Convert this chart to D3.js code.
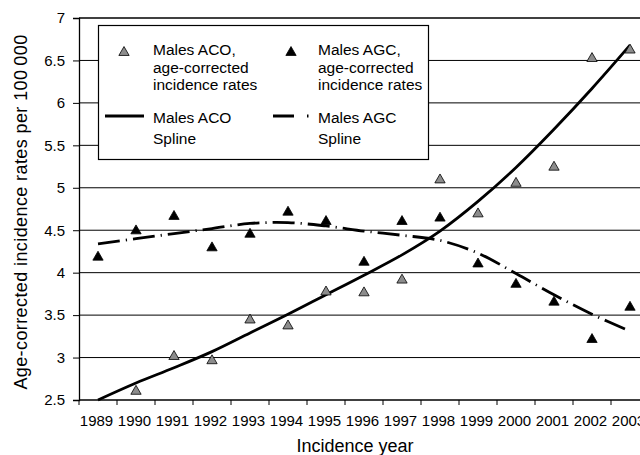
<!DOCTYPE html>
<html>
<head>
<meta charset="utf-8">
<script src="https://cdn.jsdelivr.net/npm/d3@7"></script>
<style>
  body { margin: 0; background: #fff; }
  svg { display: block; font-family: "Liberation Sans", Arial, sans-serif; }
</style>
</head>
<body>
<svg id="chart" width="640" height="455"></svg>
<script>
// values
const years = ["1989","1990","1991","1992","1993","1994","1995","1996","1997","1998","1999","2000","2001","2002","2003"];
const acoRates = [null, 2.62, 3.03, 2.98, 3.46, 3.39, 3.79, 3.78, 3.93, 5.11, 4.71, 5.07, 5.26, 6.54, 6.64];
const agcRates = [4.20, 4.51, 4.68, 4.31, 4.47, 4.73, 4.62, 4.14, 4.62, 4.66, 4.12, 3.88, 3.67, 3.23, 3.61];
const acoSpline = [2.50, 2.70, 2.88, 3.07, 3.29, 3.51, 3.74, 3.97, 4.21, 4.49, 4.84, 5.24, 5.69, 6.17, 6.68];
const agcSpline = [4.34, 4.40, 4.46, 4.52, 4.58, 4.59, 4.55, 4.49, 4.44, 4.38, 4.23, 3.99, 3.74, 3.51, 3.31];
const yTicks = [2.5, 3, 3.5, 4, 4.5, 5, 5.5, 6, 6.5, 7];

const svg = d3.select("#chart");
const plotLeft = 79, plotTop = 18, plotBottom = 400;

const x = d3.scaleBand().domain(years).range([plotLeft, plotLeft + 38 * years.length]);
const y = d3.scaleLinear().domain([2.5, 7]).range([plotBottom, plotTop]);
const cx = d => x(d) + x.bandwidth() / 2;

// gridlines
svg.append("g")
  .selectAll("line")
  .data(yTicks.slice(1))
  .join("line")
    .attr("x1", plotLeft).attr("x2", 640)
    .attr("y1", d => y(d)).attr("y2", d => y(d))
    .attr("stroke", "#000")
    .attr("stroke-width", d => d === 7 ? 1.3 : 1);

// y axis
const yAxis = svg.append("g")
  .attr("transform", `translate(${plotLeft},0)`)
  .call(d3.axisLeft(y).tickValues(yTicks).tickSize(6).tickPadding(8).tickFormat(d3.format("")));
yAxis.select(".domain").attr("stroke-width", 1.3);
yAxis.selectAll("text").attr("font-size", 15).attr("fill", "#000").attr("font-family", null);

// x axis: ticks on category boundaries
svg.append("line")
  .attr("x1", plotLeft).attr("x2", 640)
  .attr("y1", plotBottom).attr("y2", plotBottom)
  .attr("stroke", "#000").attr("stroke-width", 1.3);
svg.append("g")
  .selectAll("line")
  .data(years)
  .join("line")
    .attr("x1", d => x(d)).attr("x2", d => x(d))
    .attr("y1", plotBottom).attr("y2", plotBottom + 5)
    .attr("stroke", "#000");
svg.append("g")
  .attr("font-size", 15)
  .attr("text-anchor", "middle")
  .selectAll("text")
  .data(years)
  .join("text")
    .attr("x", d => cx(d) - 1.5)
    .attr("y", 426)
    .text(d => d);

// axis titles
svg.append("text")
  .attr("x", 355).attr("y", 452)
  .attr("text-anchor", "middle")
  .attr("font-size", 18)
  .text("Incidence year");
svg.append("text")
  .attr("transform", "translate(27,212) rotate(-90)")
  .attr("text-anchor", "middle")
  .attr("font-size", 18)
  .attr("letter-spacing", 0.4)
  .text("Age-corrected incidence rates per 100\u2009000");

// splines
const line = d3.line()
  .x((d, i) => cx(years[i]))
  .y(d => y(d))
  .curve(d3.curveCatmullRom);

svg.append("path")
  .attr("d", line(acoSpline))
  .attr("fill", "none")
  .attr("stroke", "#000")
  .attr("stroke-width", 2.8);

svg.append("path")
  .attr("d", line(agcSpline))
  .attr("fill", "none")
  .attr("stroke", "#000")
  .attr("stroke-width", 2.8)
  .attr("stroke-dasharray", "22,6,1.2,6");

// triangle markers, shifted so the box centre sits on the value
const tri = d3.symbol().type(d3.symbolTriangle).size(46);
const shift = Math.sqrt(46 / (3 * Math.sqrt(3))) / 2;

function markers(values, fill) {
  svg.append("g")
    .selectAll("path")
    .data(values.map((v, i) => [years[i], v]).filter(d => d[1] != null))
    .join("path")
      .attr("d", tri)
      .attr("transform", d => `translate(${cx(d[0])},${y(d[1]) + shift})`)
      .attr("fill", fill)
      .attr("stroke", "#000")
      .attr("stroke-width", 0.8);
}
markers(acoRates, "#8c8c8c");
markers(agcRates, "#000");

// legend
const lg = svg.append("g");
lg.append("rect")
  .attr("x", 98.5).attr("y", 25.5)
  .attr("width", 330).attr("height", 134)
  .attr("fill", "#fff").attr("stroke", "#000").attr("stroke-width", 1.2);

lg.append("path").attr("d", tri).attr("transform", `translate(124,${51 + shift})`)
  .attr("fill", "#8c8c8c").attr("stroke", "#000").attr("stroke-width", 0.8);
lg.append("path").attr("d", tri).attr("transform", `translate(291,${51 + shift})`)
  .attr("fill", "#000").attr("stroke", "#000").attr("stroke-width", 0.8);

lg.append("line").attr("x1", 105).attr("x2", 144).attr("y1", 116).attr("y2", 116)
  .attr("stroke", "#000").attr("stroke-width", 2.8);
lg.append("line").attr("x1", 273).attr("x2", 310).attr("y1", 116).attr("y2", 116)
  .attr("stroke", "#000").attr("stroke-width", 2.8)
  .attr("stroke-dasharray", "21,13,1.5,10");

const legendText = [
  [153, 55, "Males ACO,"], [153, 72.5, "age-corrected"], [153, 90, "incidence rates"],
  [318, 55, "Males AGC,"], [318, 72.5, "age-corrected"], [318, 90, "incidence rates"],
  [153, 122.5, "Males ACO"], [153, 143.5, "Spline"],
  [318, 122.5, "Males AGC"], [318, 143.5, "Spline"]
];
lg.append("g")
  .attr("font-size", 15.5)
  .selectAll("text")
  .data(legendText)
  .join("text")
    .attr("x", d => d[0])
    .attr("y", d => d[1])
    .text(d => d[2]);
</script>
</body>
</html>
